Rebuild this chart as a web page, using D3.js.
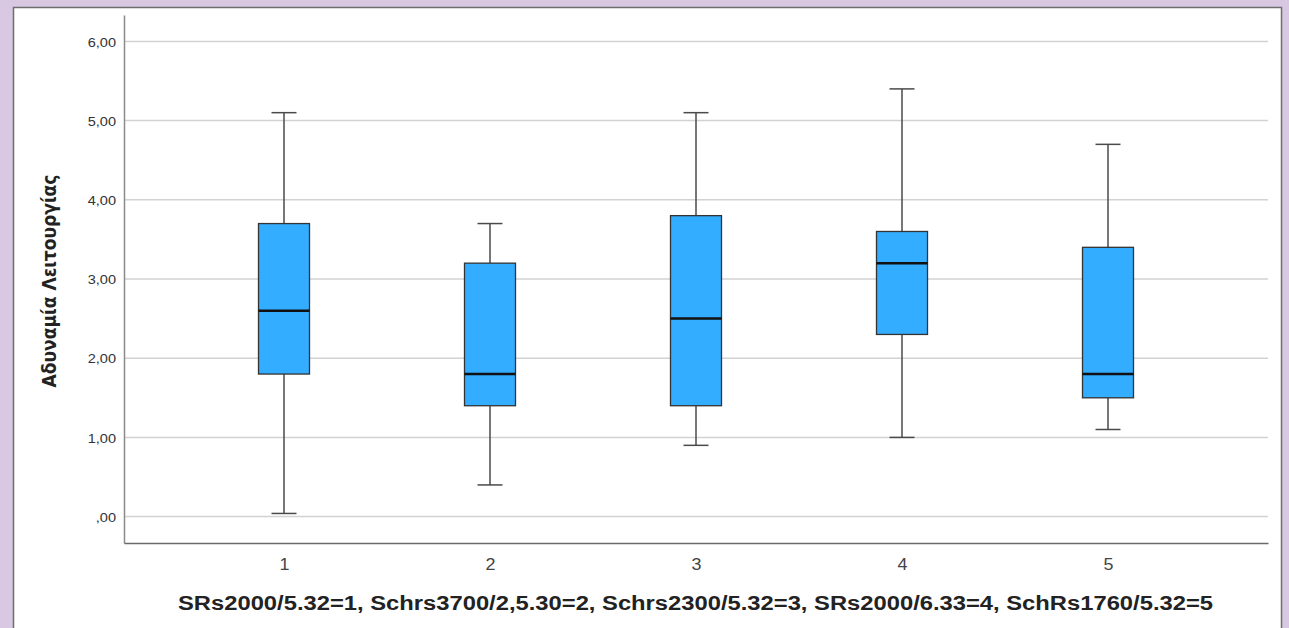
<!DOCTYPE html>
<html>
<head>
<meta charset="utf-8">
<script src="https://cdn.jsdelivr.net/npm/d3@7"></script>
<style>
  html, body { margin: 0; padding: 0; background: #d8c8e2; }
  svg { display: block; }
</style>
</head>
<body>
<svg id="chart" width="1289" height="628"></svg>
<script>
// ---- data ----
const categories = ["1", "2", "3", "4", "5"];
const whiskerLow  = [0.04, 0.40, 0.90, 1.00, 1.10];
const q1          = [1.80, 1.40, 1.40, 2.30, 1.50];
const medians     = [2.60, 1.80, 2.50, 3.20, 1.80];
const q3          = [3.70, 3.20, 3.80, 3.60, 3.40];
const whiskerHigh = [5.10, 3.70, 5.10, 5.40, 4.70];
const yTickValues = [0, 1, 2, 3, 4, 5, 6];
const yTickLabels = [",00", "1,00", "2,00", "3,00", "4,00", "5,00", "6,00"];
const xTitle = "SRs2000/5.32=1, Schrs3700/2,5.30=2, Schrs2300/5.32=3, SRs2000/6.33=4, SchRs1760/5.32=5";
const yTitle = "Αδυναμία Λειτουργίας";

const boxes = categories.map((c, i) => ({
  cat: c, lo: whiskerLow[i], q1: q1[i], med: medians[i], q3: q3[i], hi: whiskerHigh[i]
}));

// ---- layout ----
const svg = d3.select("#chart");
const plotL = 124, plotR = 1268, plotT = 15, plotB = 543;
const stretch = 1.12;

// white panel
svg.append("rect")
  .attr("x", 13.5).attr("y", 7.5)
  .attr("width", 1268).attr("height", 640)
  .attr("fill", "#ffffff")
  .attr("stroke", "#6e6e6e").attr("stroke-width", 1.5);

const y = d3.scaleLinear().domain([-0.333, 6.333]).range([plotB, plotT]);
const x = d3.scalePoint().domain(categories).range([plotL, plotR]).padding(0.7767);

// gridlines
svg.append("g").selectAll("line").data(yTickValues).join("line")
  .attr("x1", plotL).attr("x2", plotR)
  .attr("y1", d => y(d)).attr("y2", d => y(d))
  .attr("stroke", "#d2d2d2").attr("stroke-width", 1.5);

// y axis
const yAxisG = svg.append("g")
  .attr("transform", `translate(${plotL},0)`)
  .call(d3.axisLeft(y).tickValues(yTickValues)
    .tickFormat((d, i) => yTickLabels[i]).tickSize(0).tickSizeOuter(0));
yAxisG.select(".domain").attr("stroke", "#8a8a8a").attr("stroke-width", 1.5);
yAxisG.selectAll(".tick text")
  .attr("x", 0).attr("dy", "0.36em")
  .attr("transform", `translate(-8,0) scale(${stretch},1)`)
  .attr("font-family", "'Liberation Sans', Arial, sans-serif")
  .attr("font-size", 13).attr("fill", "#333");

// x axis
const xAxisG = svg.append("g")
  .attr("transform", `translate(0,${plotB})`)
  .call(d3.axisBottom(x).tickSize(0).tickSizeOuter(0));
xAxisG.select(".domain").attr("stroke", "#6a6a6a").attr("stroke-width", 1.5);
xAxisG.selectAll(".tick text")
  .attr("y", 0).attr("dy", 0)
  .attr("transform", `translate(0,27) scale(${stretch},1)`)
  .attr("font-family", "'Liberation Sans', Arial, sans-serif")
  .attr("font-size", 16).attr("fill", "#444");

// boxes
const boxW = 51, capW = 25;
const g = svg.append("g");
const bx = g.selectAll("g.box").data(boxes).join("g").attr("class", "box");

bx.append("line")
  .attr("x1", d => x(d.cat)).attr("x2", d => x(d.cat))
  .attr("y1", d => y(d.hi)).attr("y2", d => y(d.q3))
  .attr("stroke", "#4a4a4a").attr("stroke-width", 1.5);
bx.append("line")
  .attr("x1", d => x(d.cat)).attr("x2", d => x(d.cat))
  .attr("y1", d => y(d.q1)).attr("y2", d => y(d.lo))
  .attr("stroke", "#4a4a4a").attr("stroke-width", 1.5);
bx.append("line")
  .attr("x1", d => x(d.cat) - capW / 2).attr("x2", d => x(d.cat) + capW / 2)
  .attr("y1", d => y(d.hi)).attr("y2", d => y(d.hi))
  .attr("stroke", "#4a4a4a").attr("stroke-width", 1.5);
bx.append("line")
  .attr("x1", d => x(d.cat) - capW / 2).attr("x2", d => x(d.cat) + capW / 2)
  .attr("y1", d => y(d.lo)).attr("y2", d => y(d.lo))
  .attr("stroke", "#4a4a4a").attr("stroke-width", 1.5);
bx.append("rect")
  .attr("x", d => x(d.cat) - boxW / 2).attr("width", boxW)
  .attr("y", d => y(d.q3)).attr("height", d => y(d.q1) - y(d.q3))
  .attr("fill", "#33adff").attr("stroke", "#333").attr("stroke-width", 1.3);
bx.append("line")
  .attr("x1", d => x(d.cat) - boxW / 2).attr("x2", d => x(d.cat) + boxW / 2)
  .attr("y1", d => y(d.med)).attr("y2", d => y(d.med))
  .attr("stroke", "#111").attr("stroke-width", 2.5);

// x title
svg.append("text")
  .attr("x", 695.5).attr("y", 610)
  .attr("text-anchor", "middle")
  .attr("font-family", "'Liberation Sans', Arial, sans-serif")
  .attr("font-weight", "bold").attr("font-size", 20)
  .attr("fill", "#222")
  .attr("textLength", 1035).attr("lengthAdjust", "spacingAndGlyphs")
  .text(xTitle);

// y title
svg.append("text")
  .attr("transform", "translate(56,281) rotate(-90)")
  .attr("text-anchor", "middle")
  .attr("font-family", "'Liberation Sans Narrow', 'DejaVu Sans Condensed', 'Arial Narrow', sans-serif")
  .attr("font-weight", "bold").attr("font-size", 19)
  .attr("fill", "#222")
  .attr("textLength", 213).attr("lengthAdjust", "spacingAndGlyphs")
  .text(yTitle);
</script>
</body>
</html>
